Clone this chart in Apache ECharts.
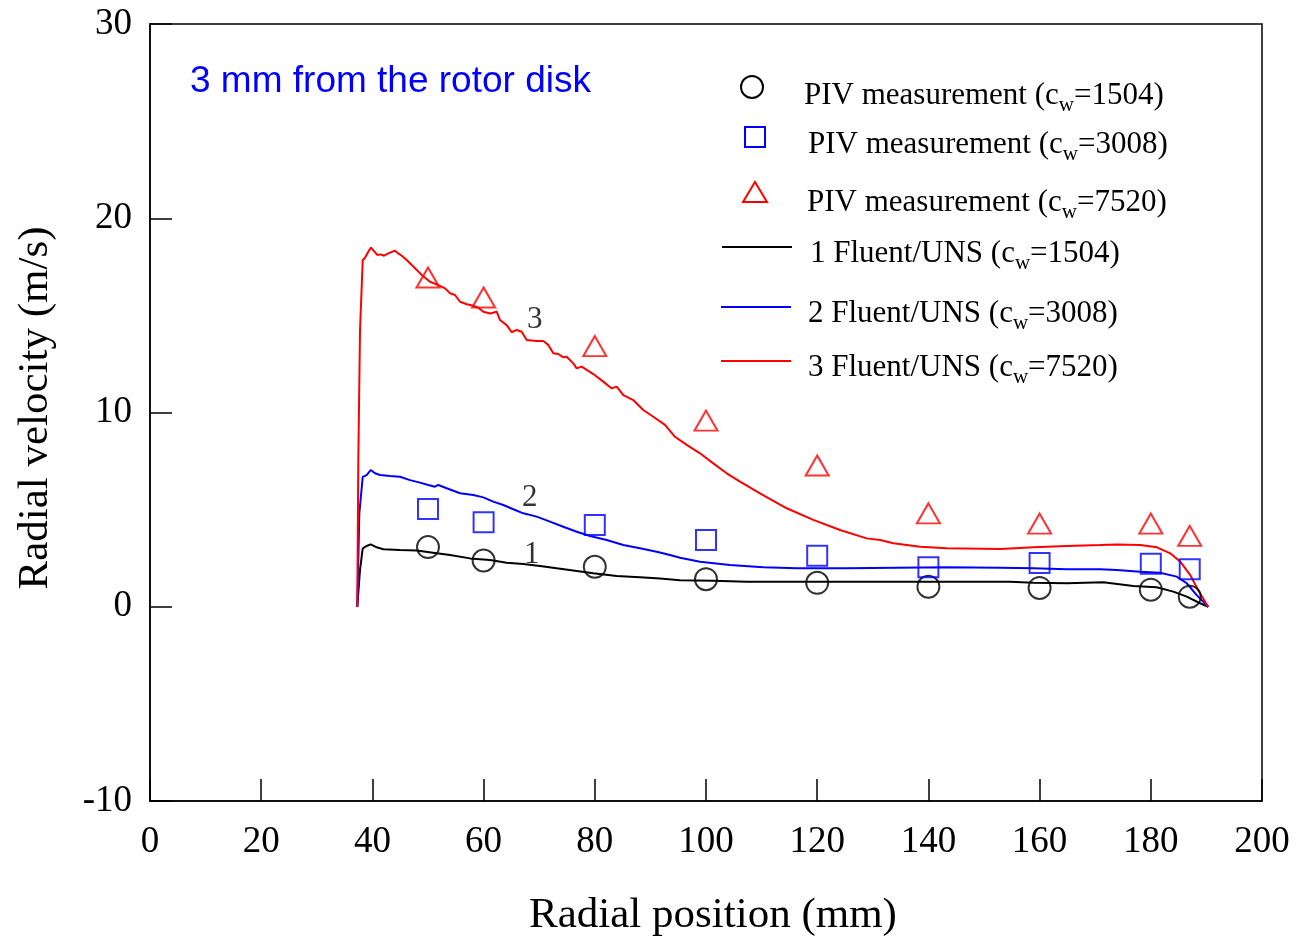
<!DOCTYPE html>
<html>
<head>
<meta charset="utf-8">
<title>Radial velocity, 3 mm from the rotor disk</title>
<script src="https://cdn.jsdelivr.net/npm/echarts@6/dist/echarts.min.js"></script>
<style>
  html, body { margin: 0; padding: 0; background: #fff; }
  #chart { width: 1296px; height: 939px; }
</style>
</head>
<body>
<div id="chart"></div>
<script>
// PIV measurement stations (radial position, mm)
const pivX = [50, 60, 80, 100, 120, 140, 160, 180, 187];
// Measured radial velocity (m/s) for each throughflow coefficient
const piv1504 = [3.07, 2.38, 2.06, 1.42, 1.23, 1.03, 0.97, 0.88, 0.52];
const piv3008 = [5.03, 4.35, 4.21, 3.44, 2.63, 2.03, 2.25, 2.22, 1.93];
const piv7520 = [16.95, 15.92, 13.42, 9.58, 7.27, 4.81, 4.28, 4.28, 3.65];

// Fluent/UNS radial velocity profiles: [radial position (mm), velocity (m/s)]
const fluent1504 = [
  [37.28, 0], [37.77, 1.89], [38.26, 3.0], [38.97, 3.13], [39.69, 3.21], [40.77, 3.06],
  [41.96, 2.96], [44.96, 2.92], [47.97, 2.89], [51.56, 2.75], [53.96, 2.66], [57.55, 2.49],
  [61.15, 2.41], [64.16, 2.27], [67.14, 2.2], [70.14, 2.1], [73.15, 1.98], [76.74, 1.84],
  [79.73, 1.72], [83.94, 1.58], [88.13, 1.52], [91.73, 1.46], [95.32, 1.36], [101.31, 1.34],
  [107.32, 1.29], [113.31, 1.29], [122.3, 1.29], [131.29, 1.29], [142.09, 1.29], [154.68, 1.29],
  [158.87, 1.24], [164.87, 1.21], [171.46, 1.26], [176.85, 1.07], [181.06, 1.0], [184.05, 0.78],
  [186.46, 0.52], [188.85, 0.18], [190.34, 0]
];
const fluent3008 = [
  [37.28, 0], [37.65, 4.8], [38.26, 6.69], [38.97, 6.78], [39.69, 7.04], [40.47, 6.87],
  [41.37, 6.78], [43.17, 6.73], [44.96, 6.69], [46.76, 6.52], [48.56, 6.39], [50.05, 6.27],
  [51.26, 6.18], [51.85, 6.27], [53.36, 6.1], [55.76, 5.84], [58.15, 5.75], [59.95, 5.63],
  [61.74, 5.41], [63.54, 5.24], [65.34, 5.02], [67.14, 4.81], [69.55, 4.64], [71.94, 4.38],
  [74.33, 4.12], [76.74, 3.86], [79.14, 3.64], [82.14, 3.44], [85.13, 3.18], [88.13, 3.01],
  [91.13, 2.83], [93.53, 2.66], [95.32, 2.52], [98.92, 2.32], [104.32, 2.15], [110.31, 2.03],
  [116.31, 1.98], [125.31, 1.98], [134.3, 2.01], [143.29, 2.03], [152.88, 2.01], [158.87, 1.98],
  [164.87, 1.93], [170.86, 1.93], [173.87, 1.89], [178.06, 1.8], [181.65, 1.75], [184.66, 1.55],
  [186.46, 1.21], [188.26, 0.6], [190.34, 0]
];
const fluent7520 = [
  [37.28, 0], [37.46, 7.4], [37.77, 14.2], [38.26, 17.85], [38.67, 17.97], [39.26, 18.28],
  [39.75, 18.49], [40.29, 18.31], [40.88, 18.11], [41.49, 18.14], [42.09, 18.07], [42.86, 18.19],
  [44.06, 18.33], [44.66, 18.19], [45.27, 18.07], [46.17, 17.85], [47.07, 17.59], [47.97, 17.34],
  [48.87, 17.08], [50.36, 16.73], [51.85, 16.56], [53.06, 16.39], [53.96, 16.14], [54.86, 16.05],
  [55.76, 15.7], [56.96, 15.57], [58.15, 15.5], [59.05, 15.39], [59.95, 15.19], [61.15, 15.1],
  [62.36, 15.19], [62.95, 14.76], [64.16, 14.5], [65.05, 14.13], [65.95, 14.25], [66.85, 14.16],
  [67.75, 13.73], [69.55, 13.68], [70.74, 13.68], [71.64, 13.48], [72.54, 13.05], [73.44, 13.01],
  [74.33, 12.84], [74.94, 12.87], [76.13, 12.53], [76.74, 12.27], [77.64, 12.36], [79.73, 11.98],
  [81.53, 11.59], [83.04, 11.24], [83.94, 11.33], [85.13, 10.9], [86.92, 10.64], [88.72, 10.13],
  [90.52, 9.78], [92.63, 9.36], [94.42, 8.75], [96.53, 8.33], [98.92, 7.9], [101.31, 7.38],
  [103.72, 6.87], [106.12, 6.44], [109.71, 5.84], [114.51, 5.07], [119.3, 4.47], [124.1, 3.95],
  [128.9, 3.52], [131.3, 3.44], [133.7, 3.27], [138.5, 3.09], [143.3, 3.01], [152.9, 2.97],
  [158.9, 3.06], [164.9, 3.13], [170.9, 3.18], [173.9, 3.21], [178.1, 3.18], [181.1, 3.06],
  [183.5, 2.75], [185.3, 2.32], [187.1, 1.63], [188.5, 0.86], [190.3, 0]
];

// Curve numbers placed next to each profile
const tagNames = ['1', '2', '3'];
const tagX = [68.65, 68.3, 69.2];
const tagY = [2.65, 5.6, 14.75];

// Axis ranges and ticks
const xMin = 0, xMax = 200, xStep = 20;
const yMin = -10, yMax = 30, yStep = 10;

const serif = '"Liberation Serif", "Times New Roman", serif';
const sans = '"Liberation Sans", Arial, sans-serif';

function zip(xs, ys) { return xs.map((x, i) => [x, ys[i]]); }

const chart = echarts.init(document.getElementById('chart'), null, { renderer: 'canvas' });

const legendRich = {
  a: { fontFamily: serif, fontSize: 31, lineHeight: 40, color: '#000' },
  s: { fontFamily: serif, fontSize: 21, lineHeight: 18, verticalAlign: 'bottom', color: '#000' }
};
function legendText(left, cy, label) {
  return {
    type: 'text', left: left, top: cy - 14, z: 100,
    style: { text: label, rich: legendRich, fill: '#000' }
  };
}

const option = {
  animation: false,
  backgroundColor: '#fff',
  title: {
    text: '3 mm from the rotor disk',
    left: 190, top: 63, padding: 0,
    textStyle: { fontFamily: sans, fontSize: 37, fontWeight: 'normal', color: '#0000ff' }
  },
  grid: {
    left: 150, right: 34, top: 24, bottom: 138,
    outerBoundsMode: 'none', containLabel: false,
    show: true, borderColor: '#000', borderWidth: 1.5, backgroundColor: 'transparent'
  },
  xAxis: {
    type: 'value', min: xMin, max: xMax, interval: xStep,
    name: 'Radial position (mm)', nameLocation: 'middle', nameGap: 93,
    nameTextStyle: { fontFamily: serif, fontSize: 43, color: '#000', padding: [0, 0, 0, 14] },
    axisLine: { show: true, onZero: false, lineStyle: { color: '#000', width: 1.5 } },
    axisTick: { show: true, inside: true, length: 22, lineStyle: { color: '#000', width: 1.5 } },
    axisLabel: { fontFamily: serif, fontSize: 37, color: '#000', margin: 23 },
    splitLine: { show: false }
  },
  yAxis: {
    type: 'value', min: yMin, max: yMax, interval: yStep,
    name: 'Radial velocity (m/s)', nameLocation: 'middle', nameGap: 93,
    nameTextStyle: { fontFamily: serif, fontSize: 43, color: '#000', padding: [0, 0, 0, 9] },
    axisLine: { show: true, onZero: false, lineStyle: { color: '#000', width: 1.5 } },
    axisTick: { show: true, inside: true, length: 22, lineStyle: { color: '#000', width: 1.5 } },
    axisLabel: { fontFamily: serif, fontSize: 37, color: '#000', margin: 18, padding: [6, 0, 0, 0] },
    splitLine: { show: false }
  },
  series: [
    {
      name: '1 Fluent/UNS (cw=1504)', type: 'line', data: fluent1504,
      showSymbol: false, symbol: 'none',
      lineStyle: { color: '#000', width: 2 }, z: 2
    },
    {
      name: '2 Fluent/UNS (cw=3008)', type: 'line', data: fluent3008,
      showSymbol: false, symbol: 'none',
      lineStyle: { color: '#0000ff', width: 2 }, z: 2
    },
    {
      name: '3 Fluent/UNS (cw=7520)', type: 'line', data: fluent7520,
      showSymbol: false, symbol: 'none',
      lineStyle: { color: '#ff0000', width: 2 }, z: 2
    },
    {
      name: 'PIV measurement (cw=1504)', type: 'scatter', data: zip(pivX, piv1504),
      symbol: 'circle', symbolSize: 22,
      itemStyle: { color: 'rgba(0,0,0,0)', borderColor: '#000', borderWidth: 2 }, z: 3
    },
    {
      name: 'PIV measurement (cw=3008)', type: 'scatter', data: zip(pivX, piv3008),
      symbol: 'rect', symbolSize: 20,
      itemStyle: { color: 'rgba(0,0,0,0)', borderColor: '#0000ff', borderWidth: 2 }, z: 3
    },
    {
      name: 'PIV measurement (cw=7520)', type: 'scatter', data: zip(pivX, piv7520),
      symbol: 'triangle', symbolSize: [23, 20],
      itemStyle: { color: 'rgba(0,0,0,0)', borderColor: '#ff0000', borderWidth: 2 }, z: 3
    },
    {
      name: 'curve numbers', type: 'scatter', symbolSize: 0, silent: true,
      data: tagNames.map((n, i) => ({ name: n, value: [tagX[i], tagY[i]] })),
      label: {
        show: true, position: 'inside', formatter: '{b}',
        fontFamily: serif, fontSize: 31, color: '#000'
      }, z: 4
    }
  ],
  graphic: [
    // measurement symbols
    { type: 'circle', shape: { cx: 752, cy: 87, r: 11 }, z: 100,
      style: { fill: 'none', stroke: '#000', lineWidth: 2 } },
    { type: 'rect', shape: { x: 745, y: 127, width: 20, height: 20 }, z: 100,
      style: { fill: 'none', stroke: '#0000ff', lineWidth: 2 } },
    { type: 'polygon', shape: { points: [[755, 182], [767, 202], [743, 202]] }, z: 100,
      style: { fill: 'none', stroke: '#ff0000', lineWidth: 2 } },
    // simulation line samples
    { type: 'line', shape: { x1: 722, y1: 247, x2: 792, y2: 247 }, z: 100,
      style: { stroke: '#000', lineWidth: 2 } },
    { type: 'line', shape: { x1: 721, y1: 307, x2: 791, y2: 307 }, z: 100,
      style: { stroke: '#0000ff', lineWidth: 2 } },
    { type: 'line', shape: { x1: 721, y1: 361, x2: 791, y2: 361 }, z: 100,
      style: { stroke: '#ff0000', lineWidth: 2 } },
    legendText(804, 94, '{a|PIV measurement (c}{s|w}{a|=1504)}'),
    legendText(808, 143, '{a|PIV measurement (c}{s|w}{a|=3008)}'),
    legendText(807, 201, '{a|PIV measurement (c}{s|w}{a|=7520)}'),
    legendText(810, 252, '{a|1 Fluent/UNS (c}{s|w}{a|=1504)}'),
    legendText(808, 312, '{a|2 Fluent/UNS (c}{s|w}{a|=3008)}'),
    legendText(808, 366, '{a|3 Fluent/UNS (c}{s|w}{a|=7520)}')
  ]
};

chart.setOption(option);
</script>
</body>
</html>
